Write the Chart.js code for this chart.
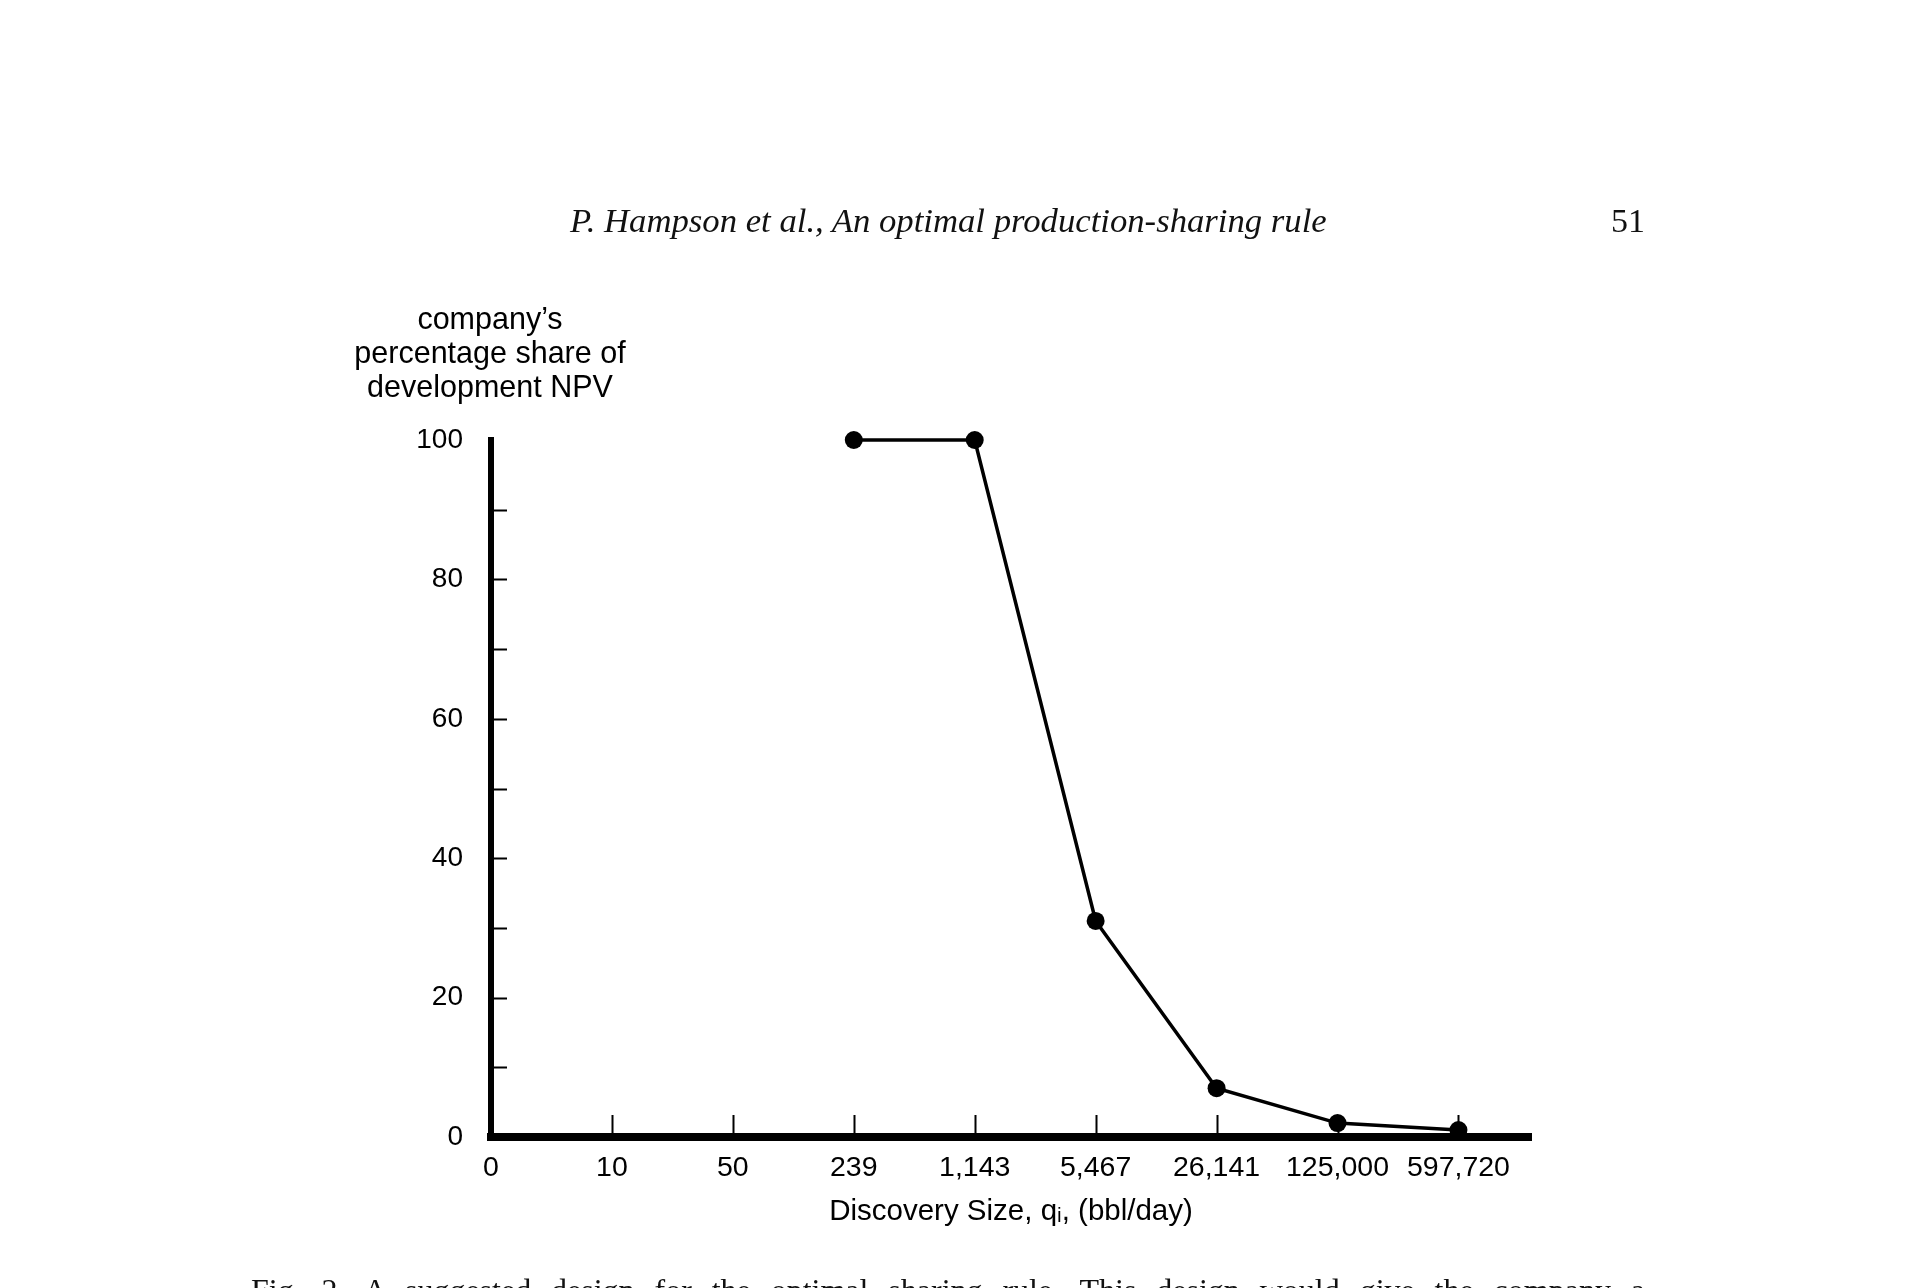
<!DOCTYPE html>
<html>
<head>
<meta charset="utf-8">
<script src="https://cdn.jsdelivr.net/npm/chart.js@4.4.1/dist/chart.umd.min.js"></script>
<style>
  html, body { margin: 0; padding: 0; background: #fff; width: 1921px; height: 1288px; overflow: hidden; }
  #wrap { position: absolute; left: 0; top: 0; width: 1921px; height: 1288px; }
  canvas { position: absolute; left: 0; top: 0; }
  .header { position: absolute; left: 570px; top: 200px; font-family: 'Liberation Serif', 'Times New Roman', serif; font-style: italic; font-size: 34.7px; color: #111; white-space: nowrap; line-height: 42px; }
  .pageno { position: absolute; right: 276px; top: 200px; font-family: 'Liberation Serif', 'Times New Roman', serif; font-size: 34px; color: #111; line-height: 42px; }
  .ytitle { position: absolute; left: 340px; width: 300px; top: 301px; text-align: center; font-family: 'Liberation Sans', Arial, Helvetica, sans-serif; font-size: 30.5px; line-height: 34px; color: #000; }
  .caption { position: absolute; left: 251px; width: 1394px; top: 1270px; font-family: 'Liberation Serif', 'Times New Roman', serif; font-size: 32px; line-height: 40px; color: #111; text-align: justify; text-align-last: justify; }
</style>
</head>
<body>
<div id="wrap">
  <canvas id="c" width="1921" height="1288"></canvas>
  <div class="header">P. Hampson et al., An optimal production-sharing rule</div>
  <div class="pageno">51</div>
  <div class="ytitle">company’s<br>percentage share of<br>development NPV</div>
  <div class="caption">Fig. 2. A suggested design for the optimal sharing rule. This design would give the company a</div>
</div>
<script>
// ---- data ----
const discoverySizes = [0, 10, 50, 239, 1143, 5467, 26141, 125000, 597720];
const shareSizes = [239, 1143, 5467, 26141, 125000, 597720];
const shareValues = [100, 100, 31, 7, 2, 1];
const yTickStep = 10;
const yLabelStep = 20;
const xTitle = 'Discovery Size, q\u1D62, (bbl/day)';

// ---- chart ----
const fmt = v => v.toLocaleString('en-US');
const points = shareSizes.map((s, k) => ({ x: discoverySizes.indexOf(s), y: shareValues[k] }));

const innerTicks = {
  id: 'innerTicks',
  beforeDatasetsDraw(chart) {
    const { ctx, chartArea, scales: { x, y } } = chart;
    ctx.save();
    ctx.strokeStyle = '#000';
    ctx.lineWidth = 2;
    ctx.beginPath();
    y.ticks.forEach(t => {
      if (t.value > 0 && t.value < 100) {
        const py = Math.round(y.getPixelForValue(t.value)) + 0.5;
        ctx.moveTo(chartArea.left, py);
        ctx.lineTo(chartArea.left + 16, py);
      }
    });
    x.ticks.forEach(t => {
      if (t.value > 0 && Number.isInteger(t.value) && t.value < discoverySizes.length) {
        const px = Math.round(x.getPixelForValue(t.value)) + 0.5;
        ctx.moveTo(px, chartArea.bottom);
        ctx.lineTo(px, chartArea.bottom - 22);
      }
    });
    ctx.stroke();
    ctx.fillStyle = '#000';
    ctx.fillRect(chartArea.left - 3, chartArea.bottom - 4, 6, 8);
    ctx.restore();
  }
};

Chart.defaults.font.family = "'Liberation Sans', Arial, Helvetica, sans-serif";
Chart.defaults.color = '#000';

new Chart(document.getElementById('c'), {
  type: 'line',
  data: {
    datasets: [{
      data: points,
      borderColor: '#000',
      backgroundColor: '#000',
      borderWidth: 3.5,
      pointRadius: 9,
      pointBackgroundColor: '#000',
      pointBorderWidth: 0,
      tension: 0,
      clip: false
    }]
  },
  options: {
    responsive: false,
    animation: false,
    events: [],
    layout: { padding: { left: 0, top: 440, right: 390, bottom: 0 } },
    plugins: { legend: { display: false }, tooltip: { enabled: false } },
    scales: {
      x: {
        type: 'linear',
        min: 0,
        max: 8.6,
        grid: { display: true, drawOnChartArea: false, drawTicks: false },
        border: { display: true, color: '#000', width: 8 },
        ticks: {
          stepSize: 1,
          includeBounds: false,
          autoSkip: false,
          maxRotation: 0,
          padding: 14,
          font: { size: 28.5 },
          color: '#000',
          callback: v => (Number.isInteger(v) && v < discoverySizes.length) ? fmt(discoverySizes[v]) : ''
        },
        title: {
          display: true,
          text: xTitle,
          font: { size: 29.5 },
          color: '#000',
          padding: { top: 0, bottom: 58 }
        },
        afterFit: s => { s.height = 151; }
      },
      y: {
        min: 0,
        max: 100,
        grid: { display: true, drawOnChartArea: false, drawTicks: false },
        border: { display: true, color: '#000', width: 6 },
        ticks: {
          stepSize: yTickStep,
          padding: 28,
          font: { size: 28 },
          color: '#000',
          callback: v => (v % yLabelStep === 0) ? String(v) : ''
        },
        afterFit: s => { s.width = 491; }
      }
    }
  },
  plugins: [innerTicks]
});
</script>
</body>
</html>
